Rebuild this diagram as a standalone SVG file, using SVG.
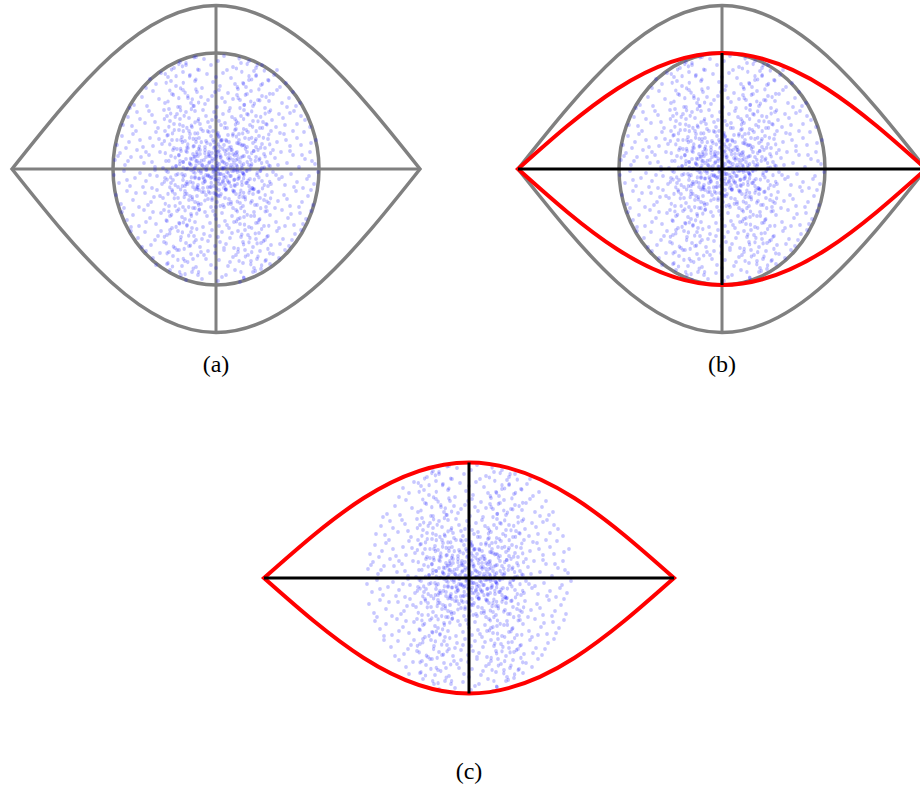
<svg xmlns="http://www.w3.org/2000/svg" xmlns:xlink="http://www.w3.org/1999/xlink" width="920" height="791" viewBox="0 0 920 791">
<style>
.bg{fill:#ffffff}
.dots{fill:none;stroke:#0000ff;stroke-opacity:0.22;stroke-width:3.8;stroke-linecap:round}
.gray{fill:none;stroke:#808080;stroke-width:3.5;stroke-linejoin:miter}
.gaxis{fill:none;stroke:#808080;stroke-width:3}
.red{fill:none;stroke:#ff0000;stroke-width:4;stroke-linejoin:miter}
.baxis{fill:none;stroke:#000000;stroke-width:3}
.lbl{font-family:"Liberation Serif","DejaVu Serif",serif;font-size:24px;fill:#000000;text-anchor:middle}
</style>
<defs>
<path id="p1" class="dots" d="M-12 -110h0M8 -113h0M25 -106h0M-30 -104h0M40 -101h0M-5 -104h0M17 -102h0M-42 -101h0M33 -108h0M-20 -112h0M2 -108h0M-36 -107h0M46 -104h0M-60 -85h0M-48 -92h0M-33 -97h0M-21 -88h0M-9 -95h0M4 -83h0M15 -91h0M27 -86h0M38 -98h0M52 -89h0M64 -82h0M-70 -81h0M-55 -96h0M-40 -83h0M-26 -94h0M-14 -81h0M0 -92h0M11 -99h0M22 -80h0M33 -89h0M45 -84h0M58 -94h0M70 -86h0M-3 -87h0M7 -96h0M-17 -99h0M19 -85h0M-45 -88h0M40 -93h0M-66 -90h0M61 -99h0M30 -82h0M-82 -64h0M-74 -72h0M-63 -78h0M-51 -66h0M-44 -75h0M-36 -62h0M-28 -71h0M-19 -77h0M-11 -65h0M-4 -73h0M3 -79h0M9 -67h0M14 -61h0M21 -74h0M28 -64h0M35 -78h0M42 -69h0M49 -61h0M57 -75h0M66 -66h0M73 -71h0M80 -63h0M-86 -61h0M-69 -63h0M-57 -70h0M-33 -79h0M-22 -63h0M-8 -69h0M1 -62h0M12 -76h0M24 -69h0M37 -63h0M46 -73h0M61 -79h0M71 -62h0M84 -66h0M-47 -60h0M-15 -72h0M17 -70h0M53 -68h0M-1 -77h0M6 -71h0M-25 -66h0M31 -75h0M77 -77h0"/>
<path id="p2" class="dots" d="M-93 -44h0M-88 -52h0M-79 -57h0M-71 -46h0M-64 -54h0M-58 -41h0M-52 -59h0M-46 -48h0M-39 -55h0M-33 -43h0M-27 -51h0M-21 -58h0M-16 -45h0M-10 -53h0M-6 -42h0M-2 -57h0M3 -48h0M7 -55h0M11 -41h0M16 -52h0M22 -46h0M28 -59h0M34 -44h0M40 -53h0M47 -47h0M53 -57h0M60 -42h0M67 -51h0M74 -56h0M81 -45h0M89 -49h0M94 -42h0M-84 -43h0M-76 -50h0M-61 -47h0M-49 -53h0M-36 -50h0M-24 -42h0M-13 -59h0M-4 -49h0M5 -44h0M13 -58h0M19 -50h0M31 -55h0M44 -41h0M56 -49h0M69 -44h0M78 -58h0M85 -53h0M-67 -58h0M-42 -45h0M-18 -48h0M0 -52h0M9 -46h0M25 -53h0M37 -48h0M63 -55h0M-30 -57h0M50 -45h0M-8 -47h0M-99 -24h0M-94 -33h0M-87 -27h0M-80 -38h0M-73 -22h0M-66 -31h0M-60 -37h0M-54 -25h0M-48 -34h0M-42 -21h0M-37 -39h0M-31 -28h0M-26 -35h0M-22 -23h0M-17 -31h0M-13 -38h0M-9 -26h0M-5 -33h0M-2 -21h0M2 -36h0M5 -28h0M8 -24h0M12 -34h0M15 -22h0M19 -39h0M23 -29h0M27 -24h0M32 -37h0M37 -26h0M43 -33h0M49 -21h0M55 -38h0M61 -27h0M68 -35h0M74 -23h0M81 -31h0M88 -37h0M95 -26h0M100 -29h0M-90 -21h0M-76 -29h0M-63 -23h0M-51 -38h0M-44 -29h0M-34 -32h0M-20 -27h0M-11 -22h0M-3 -29h0M3 -32h0M10 -29h0M17 -35h0M29 -31h0M40 -22h0M52 -30h0M64 -36h0M77 -38h0M85 -24h0M-57 -30h0M-28 -21h0M-7 -37h0M21 -26h0M46 -25h0M70 -29h0M-83 -35h0"/>
<path id="p3" class="dots" d="M-101 -9h0M-96 -16h0M-91 -4h0M-85 -12h0M-79 -19h0M-72 -6h0M-67 -14h0M-61 -2h0M-56 -17h0M-50 -8h0M-45 -13h0M-40 -3h0M-35 -18h0M-30 -10h0M-26 -5h0M-23 -15h0M-19 -8h0M-16 -19h0M-12 -2h0M-10 -12h0M-7 -6h0M-4 -16h0M-1 -10h0M1 -3h0M4 -14h0M6 -8h0M9 -18h0M11 -5h0M14 -11h0M17 -2h0M20 -16h0M24 -7h0M28 -13h0M33 -4h0M38 -18h0M43 -9h0M48 -15h0M54 -3h0M59 -11h0M65 -17h0M71 -6h0M77 -14h0M83 -2h0M89 -10h0M94 -17h0M99 -5h0M-98 -13h0M-88 -8h0M-75 -12h0M-64 -7h0M-53 -1h0M-43 -19h0M-33 -7h0M-21 -12h0M-14 -4h0M-6 -13h0M2 -17h0M8 -1h0M13 -15h0M22 -10h0M31 -17h0M40 -12h0M51 -7h0M62 -4h0M74 -18h0M86 -14h0M96 -8h0M-70 -17h0M-37 -14h0M18 -6h0M46 -1h0M57 -19h0M-102 6h0M-97 14h0M-92 2h0M-86 17h0M-81 9h0M-76 4h0M-70 12h0M-64 19h0M-59 7h0M-54 15h0M-48 3h0M-43 11h0M-38 18h0M-34 5h0M-29 13h0M-25 1h0M-21 9h0M-18 16h0M-15 4h0M-11 12h0M-8 7h0M-5 18h0M-2 2h0M0 10h0M3 15h0M5 5h0M8 19h0M10 8h0M13 13h0M16 2h0M19 17h0M23 9h0M27 4h0M31 14h0M36 19h0M41 6h0M46 12h0M52 17h0M57 3h0M63 10h0M69 16h0M75 5h0M81 13h0M87 19h0M93 7h0M98 15h0M102 3h0M-89 11h0M-73 18h0M-61 1h0M-51 9h0M-40 6h0M-31 17h0M-23 14h0M-13 19h0M-4 8h0M7 12h0M15 7h0M26 16h0M34 10h0M44 2h0M55 15h0M66 8h0M78 18h0M91 10h0M-66 6h0M-45 14h0M21 1h0M60 6h0"/>
<path id="p4" class="dots" d="M-100 26h0M-95 35h0M-89 22h0M-83 31h0M-77 38h0M-71 24h0M-65 33h0M-59 21h0M-53 29h0M-47 37h0M-41 25h0M-36 34h0M-31 22h0M-27 31h0M-23 39h0M-19 27h0M-15 35h0M-12 23h0M-8 30h0M-5 38h0M-2 24h0M1 33h0M4 27h0M7 36h0M10 21h0M13 30h0M17 39h0M20 25h0M24 34h0M29 28h0M34 21h0M39 36h0M44 29h0M50 38h0M56 23h0M62 32h0M68 26h0M74 37h0M80 22h0M86 33h0M92 27h0M97 36h0M-92 39h0M-80 24h0M-68 36h0M-56 27h0M-44 21h0M-33 38h0M-21 33h0M-10 26h0M0 38h0M9 29h0M18 23h0M27 37h0M37 25h0M48 31h0M59 39h0M71 30h0M83 38h0M95 21h0M-62 28h0M-38 29h0M15 33h0M42 23h0M-17 21h0M3 21h0M53 34h0M-94 43h0M-89 51h0M-83 46h0M-77 57h0M-72 41h0M-66 49h0M-60 55h0M-55 44h0M-49 52h0M-44 59h0M-39 42h0M-34 48h0M-29 56h0M-25 45h0M-21 53h0M-17 41h0M-13 58h0M-9 47h0M-6 54h0M-3 42h0M0 50h0M3 57h0M6 44h0M9 52h0M13 59h0M16 47h0M20 41h0M24 55h0M28 48h0M33 58h0M38 43h0M43 51h0M48 57h0M54 46h0M60 53h0M66 41h0M72 49h0M78 56h0M84 44h0M90 50h0M95 42h0M-85 58h0M-70 53h0M-52 41h0M-37 54h0M-24 59h0M-11 43h0M-1 46h0M11 56h0M22 50h0M35 47h0M51 42h0M63 59h0M75 45h0M87 55h0M-63 43h0M-46 47h0M18 53h0M40 54h0M69 57h0M-31 50h0"/>
<path id="p5" class="dots" d="M-85 62h0M-78 69h0M-71 63h0M-65 76h0M-58 67h0M-52 73h0M-46 61h0M-41 79h0M-35 68h0M-30 74h0M-25 63h0M-20 71h0M-16 78h0M-12 65h0M-8 72h0M-4 61h0M-1 77h0M2 68h0M6 63h0M10 75h0M14 69h0M18 79h0M22 62h0M27 73h0M32 66h0M37 78h0M43 64h0M49 71h0M55 76h0M61 62h0M67 70h0M73 77h0M79 65h0M85 61h0M-74 78h0M-61 71h0M-49 66h0M-38 62h0M-27 77h0M-14 70h0M-6 67h0M4 73h0M16 64h0M29 61h0M40 70h0M52 67h0M64 75h0M76 71h0M-55 62h0M-22 67h0M8 79h0M25 68h0M45 74h0M-70 82h0M-63 89h0M-56 84h0M-49 95h0M-43 87h0M-37 81h0M-31 92h0M-25 85h0M-20 98h0M-15 83h0M-10 90h0M-5 96h0M-1 84h0M3 91h0M8 81h0M12 97h0M17 88h0M22 83h0M27 94h0M32 86h0M38 99h0M44 82h0M50 91h0M57 85h0M63 89h0M69 81h0M-60 96h0M-47 83h0M-34 97h0M-23 90h0M-12 86h0M0 99h0M14 93h0M29 81h0M41 90h0M54 95h0M-8 82h0M20 86h0M35 92h0M-46 101h0M-35 106h0M-24 103h0M-14 110h0M-6 104h0M2 112h0M10 106h0M19 101h0M28 109h0M37 103h0M45 100h0M-30 111h0M6 108h0M-18 106h0M24 113h0"/>
<path id="p6" class="dots" d="M-3 -2h0M4 5h0M-8 6h0M7 -7h0M-12 -9h0M11 3h0M0 -14h0M2 12h0M-15 2h0M15 -4h0M-6 18h0M9 16h0M-18 -13h0M17 -15h0M-1 -22h0M5 25h0M-21 8h0M22 10h0M-10 -28h0M13 -27h0M-25 -4h0M26 -1h0M-14 23h0M18 22h0M3 -33h0M-4 31h0M-29 -17h0M30 14h0M-33 11h0M33 -12h0M-20 -30h0M24 -25h0M-26 27h0M27 28h0M0 0h0M6 -1h0M-5 9h0M1 -6h0M8 9h0M-9 -3h0M12 -11h0M-13 14h0M14 7h0M-2 17h0M3 -18h0M-17 -6h0M19 1h0M-7 -17h0M10 20h0M20 -9h0M-23 18h0M16 -19h0M-11 -19h0M1 26h0M-24 -10h0M28 6h0M6 -29h0M-30 0h0M35 -3h0M-36 -8h0M31 -22h0M-18 34h0M15 35h0M-31 25h0M38 20h0M-3 -38h0M8 38h0M-39 -20h0M40 -30h0M-15 -40h0M20 -40h0M23 -35h0M-27 -38h0M-35 -29h0M36 32h0M2 2h0M-4 -8h0M5 -12h0M-10 1h0M10 -2h0M-1 6h0M7 13h0M-7 -13h0M13 14h0M-12 10h0M4 -22h0M-16 -15h0M18 11h0M-21 -1h0M21 -17h0M-6 24h0M11 -19h0M-19 20h0M24 2h0M-2 -27h0"/>
<g id="cloud">
<use xlink:href="#p1" href="#p1"/>
<use xlink:href="#p2" href="#p2"/>
<use xlink:href="#p3" href="#p3"/>
<use xlink:href="#p4" href="#p4"/>
<use xlink:href="#p5" href="#p5"/>
<use xlink:href="#p6" href="#p6"/>
<g transform="matrix(0 1.1 -0.9 0 1.5 -1.5)">
<use xlink:href="#p2" href="#p2"/>
<use xlink:href="#p4" href="#p4"/>
<use xlink:href="#p6" href="#p6"/>
</g>
</g>
</defs>
<rect class="bg" x="0" y="0" width="920" height="791"/>

<g id="panel-a">
<path class="gray" d="M12 169C78.5 85.2 142.2 5.5 216 5.5C289.8 5.5 353.5 85.2 420 169C353.5 252.8 289.8 332.5 216 332.5C142.2 332.5 78.5 252.8 12 169Z"/>
<ellipse class="gray" cx="216" cy="169" rx="103" ry="116"/>
<path class="gaxis" d="M12 169H420M216 5.5V332.5"/>
<use xlink:href="#cloud" href="#cloud" transform="translate(216 169)"/>
<text class="lbl" x="216" y="372">(a)</text>
</g>

<g id="panel-b">
<path class="gray" d="M518 169C584.5 85.2 648.2 5.5 722 5.5C795.8 5.5 859.5 85.2 926 169C859.5 252.8 795.8 332.5 722 332.5C648.2 332.5 584.5 252.8 518 169Z"/>
<ellipse class="gray" cx="722" cy="169" rx="103" ry="116"/>
<path class="gaxis" d="M722 5.5V332.5"/>
<use xlink:href="#cloud" href="#cloud" transform="translate(722 169)"/>
<path class="red" d="M518 169C584.5 109.6 648.2 53 722 53C795.8 53 859.5 109.6 926 169C859.5 228.4 795.8 285 722 285C648.2 285 584.5 228.4 518 169Z"/>
<path class="baxis" d="M518 169H926M722 53V285"/>
<text class="lbl" x="722" y="372">(b)</text>
</g>

<g id="panel-c">
<use xlink:href="#cloud" href="#cloud" transform="translate(469 578)"/>
<path class="red" d="M264 578C330.9 518.8 394.8 462.5 469 462.5C543.2 462.5 607.1 518.8 674 578C607.1 637.2 543.2 693.5 469 693.5C394.8 693.5 330.9 637.2 264 578Z"/>
<path class="baxis" d="M264 578H674M469 462.5V693.5"/>
<text class="lbl" x="469" y="779">(c)</text>
</g>
</svg>
